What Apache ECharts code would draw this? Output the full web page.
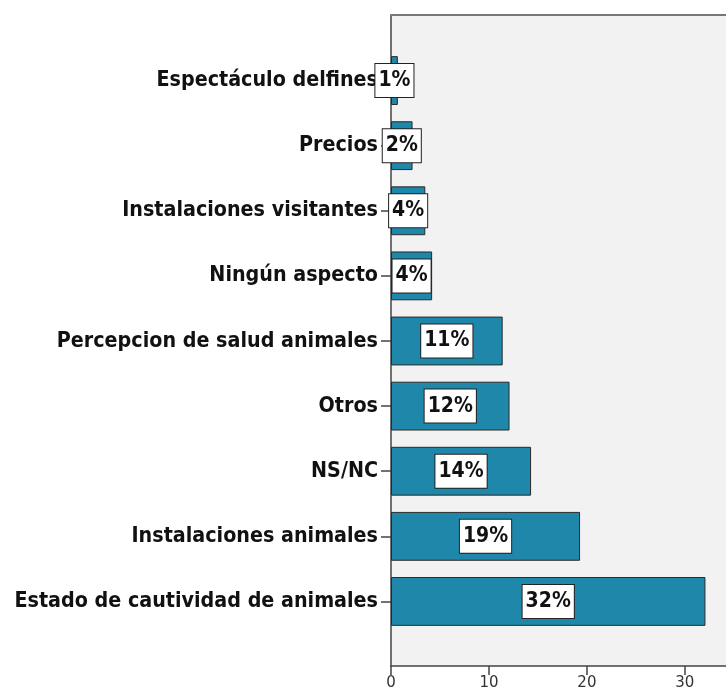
<!DOCTYPE html>
<html>
<head>
<meta charset="utf-8">
<script src="https://cdn.jsdelivr.net/npm/echarts@6/dist/echarts.min.js"></script>
<style>html,body{margin:0;padding:0;background:#fff;}#c{width:726px;height:692px;}</style>
</head>
<body>
<div id="c"></div>
<script>
const categories = ['Espectáculo delfines','Precios','Instalaciones visitantes','Ningún aspecto','Percepcion de salud animales','Otros','NS/NC','Instalaciones animales','Estado de cautividad de animales'];
const values = [0.7, 2.2, 3.5, 4.2, 11.4, 12.1, 14.3, 19.3, 32.1];
const xTicks = [0, 10, 20, 30];
const xMax = 34.2;

const chart = echarts.init(document.getElementById('c'), null, {renderer:'canvas'});
const GL = 391;
chart.setOption({
  animation: false,
  backgroundColor: '#fff',
  grid: [
    {left: GL, right: 0, top: 15, bottom: 26, show: true, backgroundColor: '#f2f2f2', borderWidth: 0},
    {left: GL, right: 0, top: 48, bottom: 58}
  ],
  xAxis: [
    {type: 'value', gridIndex: 0, min: 0, max: xMax, position: 'bottom',
     splitLine: {show: false},
     axisLine: {show: true, lineStyle: {color: '#444', width: 1.5}},
     axisTick: {show: true, length: 9, customValues: xTicks, lineStyle: {color: '#444', width: 1.5}},
     axisLabel: {margin: 10, fontSize: 15, color: '#333', fontFamily: 'DejaVu Sans', customValues: xTicks}},
    {type: 'value', gridIndex: 1, min: 0, max: xMax, show: false},
    {type: 'value', gridIndex: 0, min: 0, max: xMax, position: 'top',
     splitLine: {show: false}, axisTick: {show: false}, axisLabel: {show: false},
     axisLine: {show: true, lineStyle: {color: '#777', width: 2}}}
  ],
  yAxis: [
    {type: 'value', gridIndex: 0, min: 0, max: 1, position: 'left',
     splitLine: {show: false}, axisTick: {show: false}, axisLabel: {show: false},
     axisLine: {show: true, lineStyle: {color: '#444', width: 1.5}}},
    {type: 'category', gridIndex: 1, data: categories, inverse: true,
     axisLine: {show: false},
     axisTick: {show: true, length: 10, alignWithLabel: true, lineStyle: {color: '#444', width: 1.5}},
     axisLabel: {margin: 13, fontSize: 21.3, fontWeight: 'bold', color: '#111', fontFamily: 'DejaVu Sans Condensed, DejaVu Sans'}}
  ],
  series: [{
    type: 'bar', xAxisIndex: 1, yAxisIndex: 1, data: values,
    barCategoryGap: '25%',
    itemStyle: {color: '#1f87a9', borderColor: '#2a2a2a', borderWidth: 1},
    label: {show: true, position: 'inside', formatter: p => Math.round(p.value) + '%',
      fontSize: 21, fontWeight: 'bold', color: '#111', fontFamily: 'DejaVu Sans Condensed, DejaVu Sans',
      backgroundColor: '#fff', borderColor: '#222', borderWidth: 1, padding: [7, 3, 5, 3]}
  }]
});
</script>
</body>
</html>
